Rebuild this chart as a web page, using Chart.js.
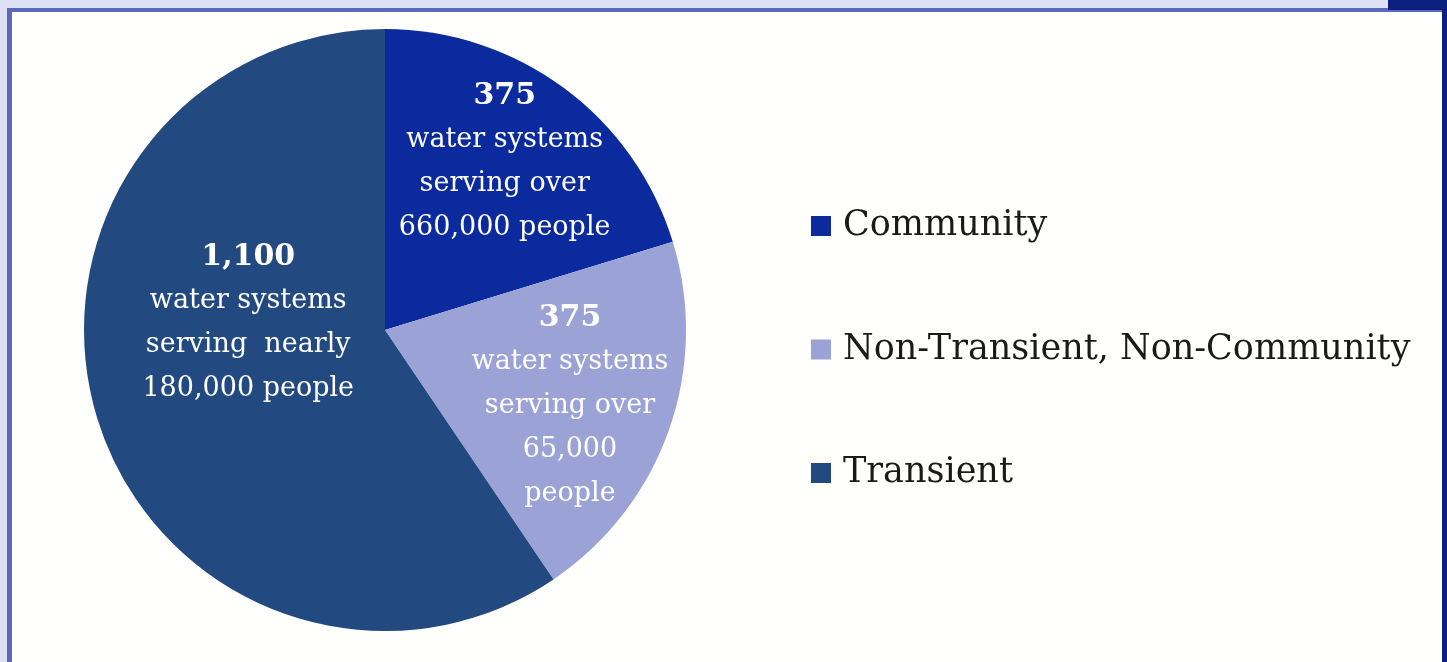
<!DOCTYPE html>
<html>
<head>
<meta charset="utf-8">
<title>Public water systems</title>
<script src="https://cdn.jsdelivr.net/npm/chart.js@4.4.1/dist/chart.umd.min.js"></script>
<style>
  html, body { margin: 0; padding: 0; width: 1447px; height: 662px; overflow: hidden; background: #dde1f4; }
  #frame { position: absolute; left: 7px; top: 8px; width: 1435px; height: 654px; background: #fffffd;
           border-left: 5px solid #5b68bd; border-top: 4px solid #5b68bd; box-sizing: border-box; }
  #edge { position: absolute; right: 0; top: 0; width: 5px; height: 662px; background: #0b1f7c; }
  #corner { position: absolute; right: 0; top: 0; width: 59px; height: 10px; background: #0b1f7c; }
  #wrap { position: absolute; left: 0; top: 0; width: 1447px; height: 662px; }
</style>
</head>
<body>
<div id="frame"></div>
<div id="edge"></div>
<div id="corner"></div>
<div id="wrap"><canvas id="pie" width="1447" height="662"></canvas></div>
<script>
var categories = ["Community", "Non-Transient, Non-Community", "Transient"];
var systemCounts = [375, 375, 1100];
var descriptions = [
  ["water systems", "serving over", "660,000 people"],
  ["water systems", "serving over", "65,000", "people"],
  ["water systems", "serving  nearly", "180,000 people"]
];
var sliceColors = ["#0b2a9e", "#9ba3d6", "#234a80"];

// where each label block sits inside its slice: fraction of radius, angle nudge (deg)
var labelSpots = [
  { rf: 0.685, shift: -1 },
  { rf: 0.665, shift: 3 },
  { rf: 0.455, shift: 20 }
];

var sliceLabels = {
  id: "sliceLabels",
  afterDatasetsDraw: function (chart) {
    var ctx = chart.ctx;
    var meta = chart.getDatasetMeta(0);
    meta.data.forEach(function (arc, i) {
      var p = arc.getProps(["x", "y", "startAngle", "endAngle", "outerRadius"], true);
      var a = (p.startAngle + p.endAngle) / 2 + labelSpots[i].shift * Math.PI / 180;
      var r = p.outerRadius * labelSpots[i].rf;
      var cx = p.x + Math.cos(a) * r;
      var cy = p.y + Math.sin(a) * r;
      var lines = [systemCounts[i].toLocaleString("en-US")].concat(descriptions[i]);
      var lh = 44;
      var y0 = cy - (lines.length - 1) * lh / 2;
      ctx.save();
      ctx.fillStyle = "#ffffff";
      ctx.textAlign = "center";
      ctx.textBaseline = "middle";
      lines.forEach(function (t, k) {
        ctx.font = k === 0 ? "bold 30px 'DejaVu Serif'" : "27px 'DejaVu Serif'";
        ctx.fillText(t, cx, y0 + k * lh);
      });
      ctx.restore();
    });
  }
};

var sideLegend = {
  id: "sideLegend",
  afterDraw: function (chart) {
    var ctx = chart.ctx;
    ctx.save();
    ctx.textBaseline = "middle";
    ctx.textAlign = "left";
    ctx.font = "35px 'DejaVu Serif'";
    categories.forEach(function (name, i) {
      var y = 226 + i * 123.5;
      ctx.fillStyle = sliceColors[i];
      ctx.fillRect(811, y - 10, 20, 20);
      ctx.fillStyle = "#1a1a1a";
      ctx.fillText(name, 843, y);
    });
    ctx.restore();
  }
};

var ctx = document.getElementById("pie").getContext("2d");
var chart = new Chart(ctx, {
  type: "pie",
  data: {
    labels: categories,
    datasets: [
      {
        label: "Water systems",
        data: systemCounts,
        backgroundColor: sliceColors,
        borderWidth: 0
      }
    ]
  },
  options: {
    responsive: false,
    animation: false,
    layout: { padding: { left: 84, right: 761, top: 29, bottom: 31 } },
    plugins: {
      legend: { display: false },
      tooltip: { enabled: false }
    }
  },
  plugins: [sliceLabels, sideLegend]
});
</script>
</body>
</html>
